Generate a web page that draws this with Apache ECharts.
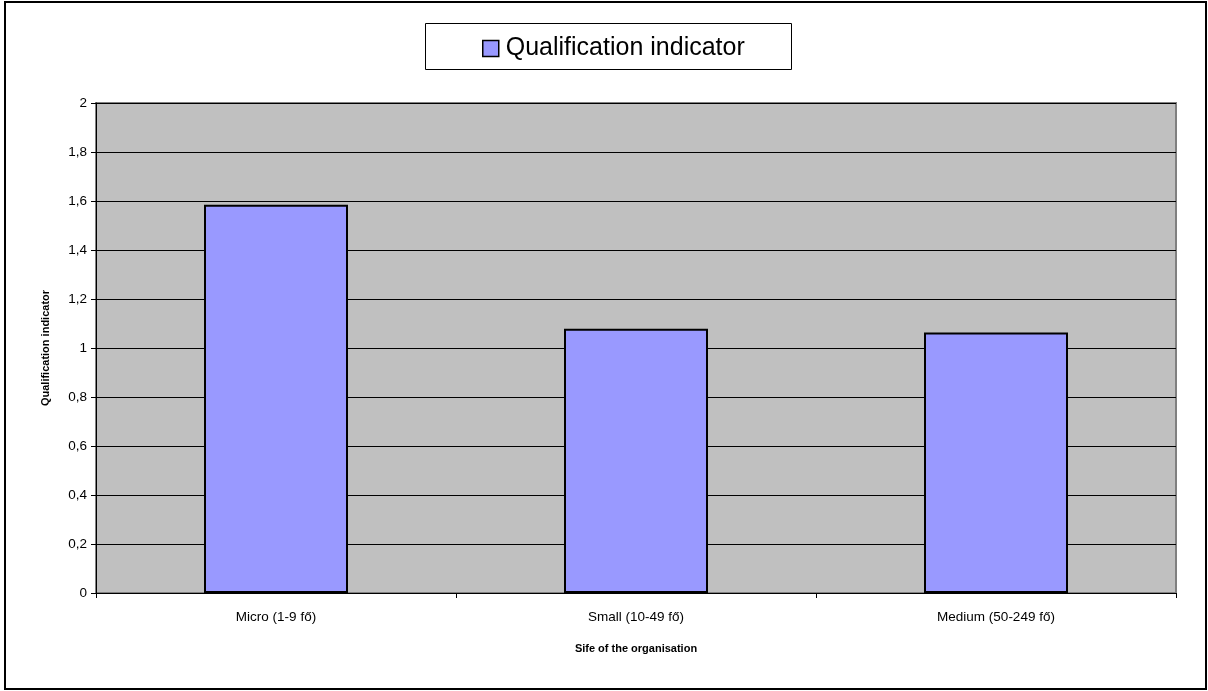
<!DOCTYPE html>
<html>
<head>
<meta charset="utf-8">
<script src="https://cdn.jsdelivr.net/npm/echarts@6/dist/echarts.min.js"></script>
<style>
  html, body { margin: 0; padding: 0; background: #fff; }
  #chart { width: 1208px; height: 691px; }
</style>
</head>
<body>
<div id="chart"></div>
<script>
// Organisation size groups and their qualification indicator
const categories = ['Micro (1-9 fő)', 'Small (10-49 fő)', 'Medium (50-249 fő)'];
const indicatorValues = [1.585, 1.079, 1.063];
const seriesName = 'Qualification indicator';
const xAxisTitle = 'Sife of the organisation';
const yAxisTitle = 'Qualification indicator';

const FONT = 'Arial, "Liberation Sans", sans-serif';

const chart = echarts.init(document.getElementById('chart'), null, { renderer: 'canvas' });

chart.setOption({
  backgroundColor: '#ffffff',
  animation: false,
  graphic: [
    // outer frame of the chart
    {
      type: 'rect', z: 0,
      shape: { x: 5, y: 2, width: 1201, height: 687 },
      style: { fill: 'none', stroke: '#000', lineWidth: 2 }
    },
    // legend frame
    {
      type: 'rect', z: 0,
      shape: { x: 425.5, y: 23.5, width: 366, height: 46 },
      style: { fill: '#fff', stroke: '#000', lineWidth: 1 }
    }
  ],
  legend: {
    data: [seriesName],
    left: 477,
    top: 31,
    itemWidth: 16,
    itemHeight: 16,
    itemGap: 0,
    icon: 'rect',
    textStyle: { fontFamily: FONT, fontSize: 25, color: '#000', padding: [0, 0, 0, 2] },
    itemStyle: { borderColor: '#000', borderWidth: 1.5 }
  },
  grid: {
    left: 96,
    top: 103,
    right: 32,
    bottom: 98,
    show: true,
    backgroundColor: '#C0C0C0',
    borderColor: '#808080',
    borderWidth: 2
  },
  xAxis: {
    type: 'category',
    data: categories,
    boundaryGap: true,
    name: xAxisTitle,
    nameLocation: 'middle',
    nameGap: 50,
    nameTextStyle: { fontFamily: FONT, fontSize: 11, fontWeight: 'bold', color: '#000' },
    axisLine: { lineStyle: { color: '#000', width: 1 } },
    axisTick: { show: true, alignWithLabel: false, length: 5, lineStyle: { color: '#000' } },
    axisLabel: { fontFamily: FONT, fontSize: 13.5, color: '#000', margin: 17 },
    splitLine: { show: false }
  },
  yAxis: {
    type: 'value',
    min: 0,
    max: 2,
    interval: 0.2,
    name: yAxisTitle,
    nameLocation: 'middle',
    nameGap: 45,
    nameRotate: 90,
    nameTextStyle: { fontFamily: FONT, fontSize: 11, fontWeight: 'bold', color: '#000' },
    axisLine: { show: true, lineStyle: { color: '#000', width: 1 } },
    axisTick: { show: true, length: 5, lineStyle: { color: '#000' } },
    axisLabel: {
      fontFamily: FONT, fontSize: 13.5, color: '#000', margin: 9,
      formatter: v => String(Math.round(v * 10) / 10).replace('.', ',')
    },
    splitLine: { show: true, lineStyle: { color: '#000', width: 1 } }
  },
  series: [{
    name: seriesName,
    type: 'bar',
    data: indicatorValues,
    barWidth: '40%',
    itemStyle: { color: '#9999FF', borderColor: '#000', borderWidth: 2 }
  }]
});
</script>
</body>
</html>
